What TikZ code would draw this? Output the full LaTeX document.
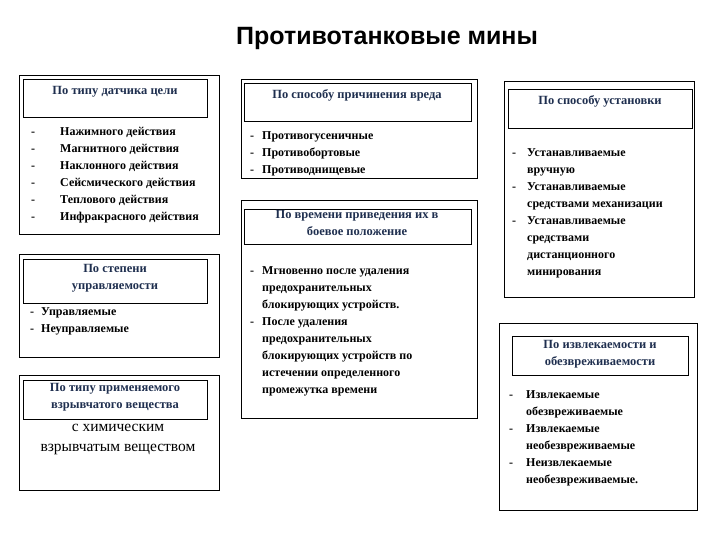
\documentclass[tikz,border=0pt]{standalone}
\usepackage{fontspec}
\setmainfont{Liberation Serif}
\newfontfamily\titlefont{Liberation Sans}
\usepackage{array}
\definecolor{navy}{HTML}{1F2F4F}
\begin{document}
\begin{tikzpicture}[x=1pt,y=-1pt,
  outer/.style={draw,line width=0.9pt,anchor=north west,inner sep=0},
  hdr/.style={draw,line width=0.9pt,anchor=north west,inner sep=0},
  htxt/.style={anchor=north,align=center,font=\fontsize{12.5}{17}\selectfont\bfseries,text=navy,inner sep=0},
  items/.style={anchor=north west,inner sep=0,font=\fontsize{12}{14.4}\selectfont\bfseries}]
\useasboundingbox (0,0) rectangle (720,540);
\node (title) at (387,38) {\titlefont\fontsize{25}{28}\selectfont\bfseries Противотанковые мины};
% left column
\node[outer,minimum width=200,minimum height=159] (b1) at (19,75) {};
\node[hdr,minimum width=184,minimum height=38] (h1) at (23,79) {};
\node[htxt] (t1) at (115,86) {По типу датчика цели};
\node[items] (i1) at (31,123) {\renewcommand\arraystretch{1.18}\begin{tabular}{@{}p{29pt}@{}l@{}}
-&Нажимного действия\\-&Магнитного действия\\-&Наклонного действия\\-&Сейсмического действия\\-&Теплового действия\\-&Инфракрасного действия\end{tabular}};
\node[outer,minimum width=200,minimum height=103] (b2) at (19,254) {};
\node[hdr,minimum width=184,minimum height=44] (h2) at (23,259) {};
\node[htxt] (t2) at (115,264) {По степени\\управляемости};
\node[items] (i2) at (30,303) {\renewcommand\arraystretch{1.18}\begin{tabular}{@{}p{11pt}@{}l@{}}
-&Управляемые\\-&Неуправляемые\end{tabular}};
\node[outer,minimum width=200,minimum height=115] (b3) at (19,375) {};
\node[hdr,minimum width=184,minimum height=39] (h3) at (23,380) {};
\node[htxt] (t3) at (115,383) {По типу применяемого\\взрывчатого вещества};
\node[anchor=north,align=center,inner sep=0,font=\fontsize{15.5}{20}\selectfont] (c3) at (118,424) {с химическим\\взрывчатым веществом};
% middle column
\node[outer,minimum width=236,minimum height=99] (b4) at (241,79) {};
\node[hdr,minimum width=227,minimum height=38] (h4) at (244,83) {};
\node[htxt] (t4) at (357,89) {По способу причинения вреда};
\node[items] (i4) at (250,127) {\renewcommand\arraystretch{1.18}\begin{tabular}{@{}p{12pt}@{}l@{}}
-&Противогусеничные\\-&Противобортовые\\-&Противоднищевые\end{tabular}};
\node[outer,minimum width=236,minimum height=218] (b5) at (241,200) {};
\node[hdr,minimum width=227,minimum height=35] (h5) at (244,209) {};
\node[htxt] (t5) at (357,210) {По времени приведения их в\\боевое положение};
\node[items] (i5) at (250,262) {\renewcommand\arraystretch{1.18}\begin{tabular}{@{}p{12pt}@{}l@{}}
-&Мгновенно после удаления\\&предохранительных\\&блокирующих устройств.\\-&После удаления\\&предохранительных\\&блокирующих устройств по\\&истечении определенного\\&промежутка времени\end{tabular}};
% right column
\node[outer,minimum width=190,minimum height=216] (b6) at (504,81) {};
\node[hdr,minimum width=184,minimum height=39] (h6) at (508,89) {};
\node[htxt] (t6) at (600,95) {По способу установки};
\node[items] (i6) at (512,144) {\renewcommand\arraystretch{1.18}\begin{tabular}{@{}p{15pt}@{}l@{}}
-&Устанавливаемые\\&вручную\\-&Устанавливаемые\\&средствами механизации\\-&Устанавливаемые\\&средствами\\&дистанционного\\&минирования\end{tabular}};
\node[outer,minimum width=198,minimum height=187] (b7) at (499,323) {};
\node[hdr,minimum width=176,minimum height=39] (h7) at (512,336) {};
\node[htxt] (t7) at (600,340) {По извлекаемости и\\обезвреживаемости};
\node[items] (i7) at (509,386) {\renewcommand\arraystretch{1.18}\begin{tabular}{@{}p{17pt}@{}l@{}}
-&Извлекаемые\\&обезвреживаемые\\-&Извлекаемые\\&необезвреживаемые\\-&Неизвлекаемые\\&необезвреживаемые.\end{tabular}};
\end{tikzpicture}
\end{document}
